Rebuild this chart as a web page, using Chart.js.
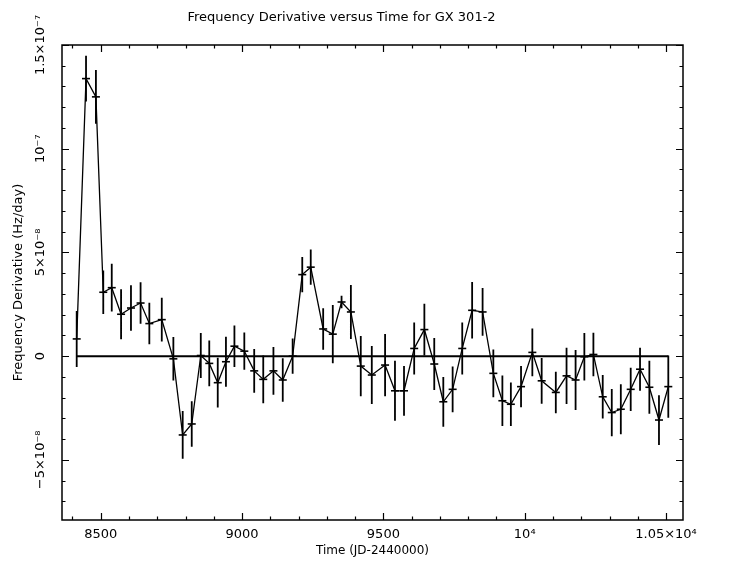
<!DOCTYPE html>
<html><head><meta charset="utf-8">
<script src="https://cdn.jsdelivr.net/npm/chart.js@4/dist/chart.umd.min.js"></script>
<style>html,body{margin:0;padding:0;background:#fff;}#wrap{width:754px;height:564px;}</style>
</head><body><div id="wrap"><canvas id="c" width="754" height="564"></canvas></div>
<script>
// Time (JD-2440000)
const times = [8415, 8448, 8483, 8509, 8539, 8572, 8607, 8641, 8672, 8716,
  8757, 8790, 8822, 8854, 8884, 8914, 8943, 8973, 9008, 9043,
  9075, 9111, 9144, 9179, 9213, 9243, 9287, 9321, 9352, 9385,
  9420, 9459, 9506, 9541, 9573, 9609, 9645, 9680, 9712, 9745,
  9779, 9814, 9851, 9889, 9921, 9951, 9987, 10027, 10060, 10110,
  10148, 10180, 10211, 10243, 10276, 10308, 10340, 10375, 10408, 10441,
  10475, 10508];
// Frequency derivative, in units of 1e-8 Hz/day
const fdot = [0.83, 13.38, 12.5, 3.08, 3.30, 2.02, 2.32, 2.56, 1.57, 1.76,
  -0.13, -3.8, -3.27, 0.03, -0.35, -1.28, -0.27, 0.48, 0.24, -0.71,
  -1.12, -0.71, -1.15, 0.0, 3.93, 4.29, 1.31, 1.06, 2.61, 2.13,
  -0.48, -0.91, -0.43, -1.67, -1.67, 0.37, 1.28, -0.38, -2.2, -1.6,
  0.37, 2.21, 2.13, -0.83, -2.15, -2.32, -1.47, 0.18, -1.19, -1.75,
  -0.95, -1.15, -0.03, 0.08, -1.96, -2.72, -2.56, -1.6, -0.63, -1.5,
  -3.08, -1.47];
// 1-sigma errors, in units of 1e-8 Hz/day
const fdotErr = [1.35, 1.1, 1.3, 1.05, 1.15, 1.2, 1.1, 1.0, 1.0, 1.05,
  1.05, 1.15, 1.1, 1.08, 1.1, 1.2, 1.2, 1.0, 0.9, 1.05,
  1.15, 1.15, 1.05, 0.85, 0.85, 0.85, 1.0, 1.4, 0.3, 1.3,
  1.45, 1.4, 1.5, 1.45, 1.2, 1.25, 1.25, 1.25, 1.2, 1.1,
  1.25, 1.36, 1.15, 1.15, 1.22, 1.05, 1.0, 1.15, 1.1, 1.0,
  1.36, 1.45, 1.15, 1.05, 1.05, 1.14, 1.2, 1.04, 1.04, 1.28,
  1.2, 1.5];
const xTickValues = [8500, 9000, 9500, 10000, 10500];
const xTickLabels = ['8500', '9000', '9500', '10\u2074', '1.05\u00d710\u2074'];
const yTickValues = [-5, 0, 5, 10, 15];
const yTickLabels = ['\u22125\u00d710\u207b\u2078', '0', '5\u00d710\u207b\u2078', '10\u207b\u2077', '1.5\u00d710\u207b\u2077'];

const FONT = 'DejaVu Sans';

const framePlugin = {
  id: 'frame',
  afterDatasetsDraw(chart) {
    const ctx = chart.ctx, xs = chart.scales.x, ys = chart.scales.y;
    ctx.save();
    ctx.strokeStyle = '#000';
    ctx.lineWidth = 1.8;
    ctx.beginPath();
    for (let i = 0; i < times.length; i++) {
      const px = xs.getPixelForValue(times[i]);
      ctx.moveTo(px, ys.getPixelForValue(fdot[i] - fdotErr[i]));
      ctx.lineTo(px, ys.getPixelForValue(fdot[i] + fdotErr[i]));
    }
    ctx.stroke();
    ctx.restore();
  },
  afterDraw(chart) {
    const ctx = chart.ctx, a = chart.chartArea, xs = chart.scales.x, ys = chart.scales.y;
    ctx.save();
    ctx.strokeStyle = '#000';
    ctx.lineWidth = 1.5;
    ctx.strokeRect(a.left, a.top, a.right - a.left, a.bottom - a.top);
    ctx.lineWidth = 1.2;
    ctx.beginPath();
    for (let v = Math.ceil(xs.min / 100) * 100; v <= xs.max; v += 100) {
      const px = Math.round(xs.getPixelForValue(v)) + 0.5;
      const L = (v % 500 === 0) ? 7 : 3.5;
      ctx.moveTo(px, a.top); ctx.lineTo(px, a.top + L);
      ctx.moveTo(px, a.bottom); ctx.lineTo(px, a.bottom - L);
    }
    for (let v = Math.ceil(ys.min); v <= ys.max; v += 1) {
      const py = Math.round(ys.getPixelForValue(v)) + 0.5;
      const L = (v % 5 === 0) ? 7 : 3.5;
      ctx.moveTo(a.left, py); ctx.lineTo(a.left + L, py);
      ctx.moveTo(a.right, py); ctx.lineTo(a.right - L, py);
    }
    ctx.stroke();
    ctx.fillStyle = '#000';
    ctx.font = '13px "' + FONT + '"';
    ctx.textAlign = 'center';
    ctx.textBaseline = 'middle';
    for (let i = 0; i < yTickValues.length; i++) {
      const py = ys.getPixelForValue(yTickValues[i]);
      ctx.save();
      ctx.translate(41, py);
      ctx.rotate(-Math.PI / 2);
      ctx.fillText(yTickLabels[i], 0, 0);
      ctx.restore();
    }
    for (let i = 0; i < xTickValues.length; i++) {
      const px = xs.getPixelForValue(xTickValues[i]);
      ctx.fillText(xTickLabels[i], px, a.bottom + 15);
    }
    ctx.restore();
  }
};

new Chart(document.getElementById('c'), {
  type: 'scatter',
  data: {
    datasets: [
      {
        data: [{x: times[0], y: 0}, {x: times[times.length - 1], y: 0}],
        showLine: true, borderColor: '#000', borderWidth: 2, pointRadius: 0
      },
      {
        data: times.map((t, i) => ({x: t, y: fdot[i]})),
        showLine: true, borderColor: '#000', borderWidth: 1.3,
        pointStyle: 'line', pointRadius: 4, pointBorderWidth: 1.6,
        pointBorderColor: '#000', pointBackgroundColor: '#000'
      }
    ]
  },
  options: {
    responsive: false, animation: false, devicePixelRatio: 1,
    layout: {padding: {left: 0, right: 71, top: 0, bottom: 0}},
    plugins: {
      legend: {display: false}, tooltip: {enabled: false},
      title: {
        display: true, text: 'Frequency Derivative versus Time for GX 301-2',
        color: '#000', font: {family: FONT, size: 13, weight: 'normal'},
        padding: {top: 10, bottom: 19.4}
      }
    },
    scales: {
      x: {
        type: 'linear', min: 8363, max: 10560,
        grid: {display: false, drawTicks: false}, border: {display: false},
        ticks: {display: false, includeBounds: false, stepSize: 500},
        title: {display: true, text: 'Time (JD-2440000)', color: '#000',
          font: {family: FONT, size: 12}, padding: {top: 0, bottom: 6}},
        afterFit: (s) => { s.height = 44; }
      },
      y: {
        type: 'linear', min: -7.9, max: 15,
        grid: {display: false, drawTicks: false}, border: {display: false},
        ticks: {display: false, stepSize: 5},
        title: {display: true, text: 'Frequency Derivative (Hz/day)', color: '#000',
          font: {family: FONT, size: 13}, padding: {top: 10.5, bottom: 0}},
        afterFit: (s) => { s.width = 62; }
      }
    }
  },
  plugins: [framePlugin]
});
</script>
</body></html>
